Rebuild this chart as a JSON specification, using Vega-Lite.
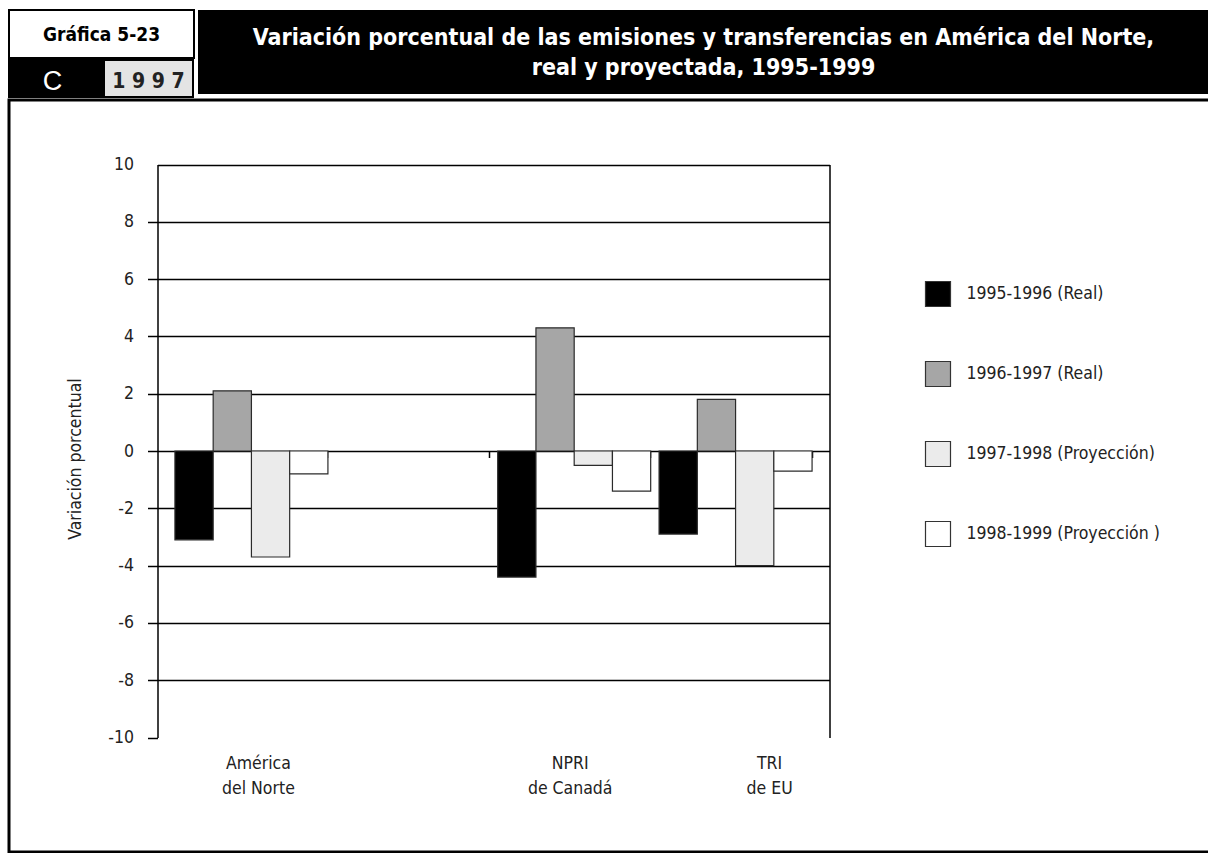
{
  "$schema": "https://vega.github.io/schema/vega-lite/v6.json",
  "background": "white",
  "padding": {"left": 7, "top": 9, "right": 0, "bottom": 0},
  "align": "none",
  "spacing": 0,
  "config": {"view": {"stroke": null}},
  "vconcat": [
    {
      "hconcat": [
        {
          "vconcat": [
            {
              "width": 185,
              "height": 48,
              "view": {"fill": "white", "stroke": "black", "strokeWidth": 2},
              "data": {"values": [{"t": "Gráfica 5-23"}]},
              "mark": {"type": "text", "font": "DejaVu Sans Condensed, sans-serif", "fontWeight": "bold", "fontSize": 19, "fill": "black", "align": "center", "baseline": "middle", "dy": 1},
              "encoding": {"text": {"field": "t", "type": "nominal"}}
            },
            {
              "hconcat": [
                {
                  "width": 93,
                  "height": 37,
                  "view": {"fill": "black", "stroke": "black", "strokeWidth": 2},
                  "data": {"values": [{"t": "C"}]},
                  "mark": {"type": "text", "font": "Liberation Sans, Arial, sans-serif", "fontSize": 27, "fill": "white", "align": "center", "baseline": "middle", "dx": -3, "dy": 3},
                  "encoding": {"text": {"field": "t", "type": "nominal"}}
                },
                {
                  "width": 89,
                  "height": 37,
                  "view": {"fill": "#e4e4e4", "stroke": "black", "strokeWidth": 2},
                  "data": {"values": [{"t": "1 9 9 7"}]},
                  "mark": {"type": "text", "font": "DejaVu Sans Condensed, sans-serif", "fontWeight": "bold", "fontSize": 21, "fill": "#222222", "align": "center", "baseline": "middle", "dy": 3},
                  "encoding": {"text": {"field": "t", "type": "nominal"}}
                }
              ],
              "spacing": 0,
              "align": "none"
            }
          ],
          "spacing": 0,
          "align": "none"
        },
        {
          "width": 1011,
          "height": 84,
          "view": {"fill": "black", "stroke": null},
          "data": {"values": [{"t": "Variación porcentual de las emisiones y transferencias en América del Norte,|real y proyectada, 1995-1999"}]},
          "mark": {"type": "text", "font": "DejaVu Sans Condensed, sans-serif", "fontWeight": "bold", "fontSize": 23, "fill": "white", "align": "center", "baseline": "middle", "lineBreak": "|", "lineHeight": 30, "dy": -14},
          "encoding": {"text": {"field": "t", "type": "nominal"}}
        }
      ],
      "spacing": 3,
      "align": "none"
    },
    {
      "width": 1202,
      "height": 752,
      "view": {"fill": "white", "stroke": "black", "strokeWidth": 3},
      "data": {
        "values": [
          {"region": "América del Norte", "periodo": "1995-1996 (Real)", "valor": -3.1},
          {"region": "América del Norte", "periodo": "1996-1997 (Real)", "valor": 2.1},
          {"region": "América del Norte", "periodo": "1997-1998 (Proyección)", "valor": -3.7},
          {"region": "América del Norte", "periodo": "1998-1999 (Proyección )", "valor": -0.8},
          {"region": "NPRI de Canadá", "periodo": "1995-1996 (Real)", "valor": -4.4},
          {"region": "NPRI de Canadá", "periodo": "1996-1997 (Real)", "valor": 4.3},
          {"region": "NPRI de Canadá", "periodo": "1997-1998 (Proyección)", "valor": -0.5},
          {"region": "NPRI de Canadá", "periodo": "1998-1999 (Proyección )", "valor": -1.4},
          {"region": "TRI de EU", "periodo": "1995-1996 (Real)", "valor": -2.9},
          {"region": "TRI de EU", "periodo": "1996-1997 (Real)", "valor": 1.8},
          {"region": "TRI de EU", "periodo": "1997-1998 (Proyección)", "valor": -4.0},
          {"region": "TRI de EU", "periodo": "1998-1999 (Proyección )", "valor": -0.7}
        ]
      },
      "layer": [
        {
          "mark": {"type": "bar", "stroke": "#2b2b2b", "strokeWidth": 1.2},
          "encoding": {
            "x": {
              "field": "region",
              "type": "nominal",
              "scale": {"type": "band", "domain": ["América del Norte", "vacío", "NPRI de Canadá", "TRI de EU"], "range": [148.5, 820.5], "paddingInner": 0.052, "paddingOuter": 0.108},
              "axis": {"orient": "bottom", "offset": -400.5, "domain": false, "labels": false, "grid": false, "ticks": true, "tickSize": 6, "tickColor": "#000000", "tickWidth": 1.5, "bandPosition": 1, "title": null}
            },
            "xOffset": {
              "field": "periodo",
              "type": "nominal",
              "scale": {"domain": ["1995-1996 (Real)", "1996-1997 (Real)", "1997-1998 (Proyección)", "1998-1999 (Proyección )"], "paddingInner": 0, "paddingOuter": 0}
            },
            "y": {
              "field": "valor",
              "type": "quantitative",
              "scale": {"domain": [-10, 10], "range": [637.5, 64.5], "nice": false, "zero": false},
              "axis": {
                "orient": "left",
                "offset": -148.5,
                "values": [-10, -8, -6, -4, -2, 0, 2, 4, 6, 8, 10],
                "labelExpr": "toString(datum.value)",
                "domain": true,
                "domainColor": "#000000",
                "domainWidth": 1.5,
                "ticks": true,
                "tickColor": {"condition": {"test": "datum.value === 10", "value": "transparent"}, "value": "#000000"},
                "tickSize": 10,
                "tickWidth": 1.5,
                "labelFont": "DejaVu Sans Condensed, sans-serif",
                "labelFontSize": 17.5,
                "labelColor": "#222222",
                "labelPadding": 14,
                "grid": true,
                "gridColor": {"condition": {"test": "datum.value === -10", "value": "transparent"}, "value": "#000000"},
                "gridWidth": 1.3,
                "gridOpacity": 1,
                "title": "Variación porcentual",
                "titleFont": "DejaVu Sans Condensed, sans-serif",
                "titleFontSize": 17.5,
                "titleFontWeight": "normal",
                "titleColor": "#222222",
                "titleX": -82,
                "titleY": 358.5,
                "titleAngle": -90,
                "titleAlign": "center",
                "titleBaseline": "middle"
              }
            },
            "color": {
              "field": "periodo",
              "type": "nominal",
              "scale": {"domain": ["1995-1996 (Real)", "1996-1997 (Real)", "1997-1998 (Proyección)", "1998-1999 (Proyección )"], "range": ["#000000", "#a6a6a6", "#ebebeb", "#ffffff"]},
              "legend": {
                "orient": "none",
                "legendX": 915.5,
                "legendY": 270.5,
                "title": null,
                "padding": 0,
                "symbolType": "square",
                "symbolSize": 625,
                "symbolStrokeColor": "#333333",
                "symbolStrokeWidth": 1.2,
                "symbolOpacity": 1,
                "labelFont": "DejaVu Sans Condensed, sans-serif",
                "labelFontSize": 17.5,
                "labelColor": "#222222",
                "labelOffset": 15,
                "labelLimit": 400,
                "rowPadding": 49
              }
            }
          }
        },
        {
          "mark": {"type": "bar", "opacity": 0},
          "encoding": {
            "x": {
              "field": "region",
              "type": "nominal",
              "axis": {
                "orient": "bottom",
                "offset": -114.5,
                "domain": false,
                "ticks": false,
                "grid": false,
                "title": null,
                "labelAngle": 0,
                "labelExpr": "datum.value === 'América del Norte' ? ['América', 'del Norte'] : datum.value === 'NPRI de Canadá' ? ['NPRI', 'de Canadá'] : datum.value === 'TRI de EU' ? ['TRI', 'de EU'] : ''",
                "labelFont": "DejaVu Sans Condensed, sans-serif",
                "labelFontSize": 17.5,
                "labelColor": "#222222",
                "labelPadding": 17,
                "labelLineHeight": 25,
                "labelBaseline": "top",
                "labelOffset": {"condition": [{"test": "datum.value === 'TRI de EU'", "value": 34}, {"test": "datum.value === 'América del Norte'", "value": 7}], "value": -4}
              }
            },
            "xOffset": {"field": "periodo", "type": "nominal"},
            "y": {
              "field": "valor",
              "type": "quantitative",
              "axis": {"orient": "right", "offset": -381.5, "domain": true, "domainColor": "#000000", "domainWidth": 1.5, "ticks": false, "labels": false, "grid": false, "title": null}
            }
          }
        }
      ],
      "resolve": {"axis": {"x": "independent", "y": "independent"}}
    }
  ]
}
